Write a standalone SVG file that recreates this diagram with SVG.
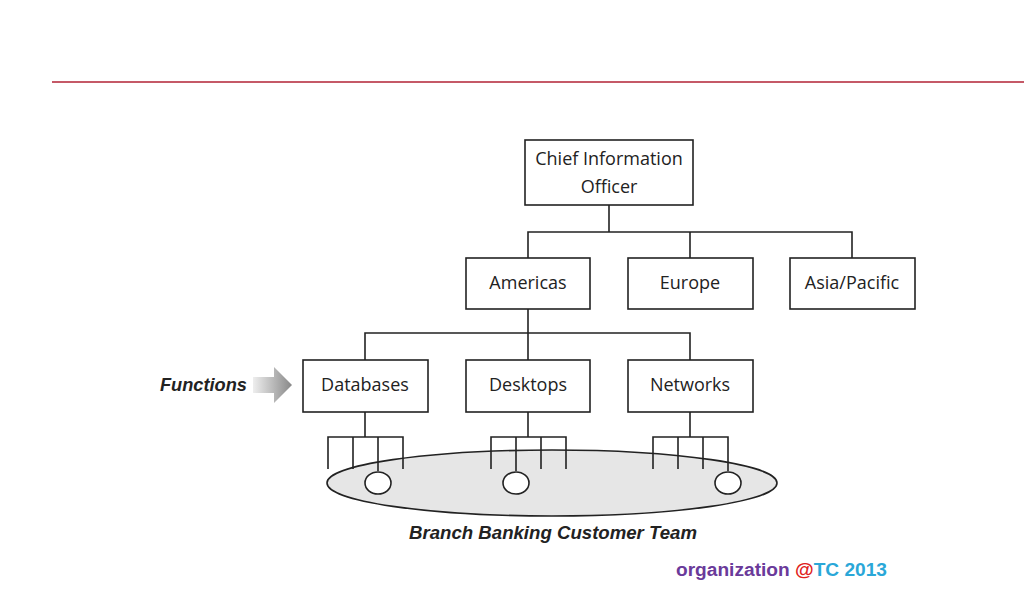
<svg xmlns="http://www.w3.org/2000/svg" width="1024" height="592" viewBox="0 0 1024 592">
<defs>
<style>
.b{fill:#fff;stroke:#222;stroke-width:1.6}
.t{font-family:"Open Sans","Liberation Sans",sans-serif;font-size:18px;fill:#222;text-anchor:middle}
.c{fill:none;stroke:#222;stroke-width:1.6}
.i{font-family:"Liberation Sans",sans-serif;font-weight:bold;font-style:italic;font-size:18px;fill:#222}
</style>
<linearGradient id="g" x1="0" x2="1"><stop offset="0" stop-color="#eee"/><stop offset="1" stop-color="#888"/></linearGradient>
</defs>
<rect width="1024" height="592" fill="#fff"/>
<line x1="52" y1="82" x2="1024" y2="82" stroke="#b22234" stroke-width="1.6"/>
<g id="team"><ellipse cx="552" cy="483" rx="225" ry="33" fill="#e6e6e6" stroke="#222" stroke-width="1.6"/></g>
<g id="connectors" class="c">
<path d="M609 205V232M528 258V232H852V258M690 232V258"/>
<path d="M528 309V333M365 360V333H690V360M528 333V360"/>
<path d="M365 412V437M328 469V437H403V469M353 437V469M378 437V471"/>
<path d="M528 412V437M491 469V437H566V469M516 437V471M541 437V469"/>
<path d="M690 412V437M653 469V437H728V471M678 437V469M703 437V469"/>
</g>
<g id="members" class="b">
<ellipse cx="378" cy="483" rx="13" ry="11"/>
<ellipse cx="516" cy="483" rx="13" ry="11"/>
<ellipse cx="728" cy="483" rx="13" ry="11"/>
</g>
<g id="cio"><rect class="b" x="525" y="140" width="168" height="65"/><text class="t" x="609" y="165">Chief Information</text><text class="t" x="609" y="193">Officer</text></g>
<g id="americas"><rect class="b" x="466" y="258" width="124" height="51"/><text class="t" x="528" y="289">Americas</text></g>
<g id="europe"><rect class="b" x="628" y="258" width="125" height="51"/><text class="t" x="690" y="289">Europe</text></g>
<g id="asia"><rect class="b" x="790" y="258" width="125" height="51"/><text class="t" x="852" y="289">Asia/Pacific</text></g>
<g id="databases"><rect class="b" x="303" y="360" width="125" height="52"/><text class="t" x="365" y="391">Databases</text></g>
<g id="desktops"><rect class="b" x="466" y="360" width="124" height="52"/><text class="t" x="528" y="391">Desktops</text></g>
<g id="networks"><rect class="b" x="628" y="360" width="125" height="52"/><text class="t" x="690" y="391">Networks</text></g>
<g id="functions"><text class="i" x="160" y="391" textLength="87" lengthAdjust="spacingAndGlyphs">Functions</text><path d="M253 377H274V367L292 385L274 403V393H253Z" fill="url(#g)"/></g>
<text class="i" x="409" y="539" textLength="288" lengthAdjust="spacingAndGlyphs">Branch Banking Customer Team</text>
<text x="676" y="576" font-family="Liberation Sans,sans-serif" font-weight="bold" font-size="18" fill="#6a3a9a" textLength="211" lengthAdjust="spacingAndGlyphs">organization <tspan fill="#e02020">@</tspan><tspan fill="#2aa7d8">TC 2013</tspan></text>
</svg>
